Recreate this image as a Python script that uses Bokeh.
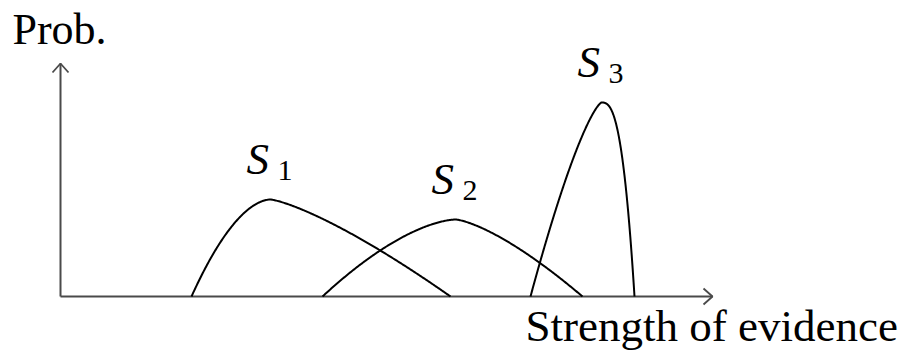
import numpy as np
from bokeh.plotting import figure
from bokeh.models import Range1d, ColumnDataSource
from bokeh.core.properties import value
from bokeh.embed import file_html
from bokeh.resources import INLINE

# Three schematic evidence-strength distributions (units: horizontal / vertical scale of the sketch)
series = ["1", "2", "3"]
starts = [131, 262, 470]       # where each distribution leaves zero
modes = [210, 395, 541]        # position of the peak
ends = [390, 522, 574]         # where each distribution returns to zero
heights = [97, 77, 194]        # peak probability
left_shape = [1.8, 1.6, 1.35]  # curvature of the rising side
right_shape = [1.3, 1.4, 2.7]  # curvature of the falling side

x_axis_end = 652
y_axis_end = 233
y_title = "Prob."
x_title = "Strength of evidence"

SERIF = value("Liberation Serif")
# the renderer sets alphabetic text about a third of an em low; lift it back
LIFT = 0.33

p = figure(width=903, height=352, output_backend="svg", toolbar_location=None,
           x_range=Range1d(-60, 843), y_range=Range1d(-56, 296),
           x_axis_type=None, y_axis_type=None, min_border=0)
p.outline_line_color = None
p.grid.visible = False
p.background_fill_color = "white"
p.border_fill_color = "white"

AX_COLOR = "#4a4a4a"

# axes
p.segment(x0=[0, 0], y0=[0, 0], x1=[x_axis_end, 0], y1=[0, y_axis_end],
          line_color=AX_COLOR, line_width=2)

# open chevron arrow heads at the ends of both axes
head_len, head_half = 9, 8
p.multi_line(xs=[[x_axis_end - head_len, x_axis_end, x_axis_end - head_len],
                 [-head_half, 0, head_half]],
             ys=[[head_half, 0, -head_half],
                 [y_axis_end - head_len, y_axis_end, y_axis_end - head_len]],
             line_color=AX_COLOR, line_width=1.8)


def bump(start, mode, end, height, ml, mr, n=300):
    x = np.unique(np.concatenate([np.linspace(start, end, n), [mode]]))
    s = np.where(x < mode, (mode - x) / (mode - start), (x - mode) / (end - mode))
    m = np.where(x < mode, ml, mr)
    return x, height * (1 - np.clip(s, 0, 1) ** m)


for st, mo, en, h, ml, mr in zip(starts, modes, ends, heights, left_shape, right_shape):
    xs, ys = bump(st, mo, en, h, ml, mr)
    p.line(xs, ys, line_color="black", line_width=2)

# curve labels: italic S with an upright subscript, placed above each peak
S_SIZE, SUB_SIZE, TITLE_SIZE, XTITLE_SIZE = 45, 30, 44, 45
lab = ColumnDataSource(dict(
    x=[m - 24 for m in modes],
    y=[h + 26 + LIFT * S_SIZE for h in heights],
    xs=[m + 7 for m in modes],
    ys=[h + 19 + LIFT * SUB_SIZE for h in heights],
    s=["S"] * len(series),
    sub=series,
))
p.text(x="x", y="y", text="s", source=lab, text_font=SERIF, text_font_style="italic",
       text_font_size=f"{S_SIZE}px", text_baseline="alphabetic", text_align="left",
       text_color="black")
p.text(x="xs", y="ys", text="sub", source=lab, text_font=SERIF,
       text_font_size=f"{SUB_SIZE}px", text_baseline="alphabetic", text_align="left",
       text_color="black")

# axis titles
p.text(x=[-48], y=[252 + LIFT * TITLE_SIZE], text=[y_title], text_font=SERIF,
       text_font_size=f"{TITLE_SIZE}px", text_baseline="alphabetic", text_align="left",
       text_color="black")
p.text(x=[465], y=[-44 + LIFT * XTITLE_SIZE], text=[x_title], text_font=SERIF,
       text_font_size=f"{XTITLE_SIZE}px", text_baseline="alphabetic", text_align="left",
       text_color="black")

open("out.html", "w").write(file_html(p, INLINE))
